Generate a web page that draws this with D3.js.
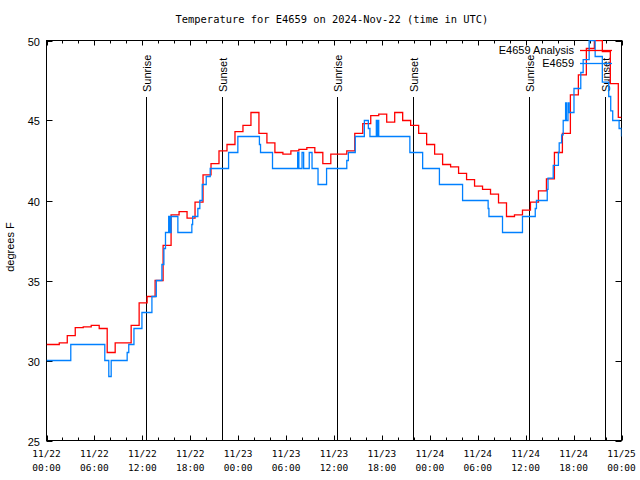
<!DOCTYPE html>
<html><head><meta charset="utf-8">
<script src="https://cdn.jsdelivr.net/npm/d3@7"></script>
<style>
body{margin:0;background:#fff;}
svg{display:block;}
</style></head>
<body>
<svg id="c" width="640" height="480"></svg>
<script>
// ---- data ----
const title = "Temperature for E4659 on 2024-Nov-22 (time in UTC)";
const yLabel = "degrees F";
const yTicks = [25, 30, 35, 40, 45, 50];
const xTickHours = [0, 6, 12, 18, 24, 30, 36, 42, 48, 54, 60, 66, 72];
const xTickDates = ["11/22","11/22","11/22","11/22","11/23","11/23","11/23","11/23","11/24","11/24","11/24","11/24","11/25"];
const xTickTimes = ["00:00","06:00","12:00","18:00","00:00","06:00","12:00","18:00","00:00","06:00","12:00","18:00","00:00"];
const sunEvents = ["Sunrise","Sunset","Sunrise","Sunset","Sunrise","Sunset"];
const sunHours = [12.45, 21.95, 36.4, 45.95, 60.45, 69.95];
const seriesNames = ["E4659 Analysis", "E4659"];

// Analysis: hourly values (hours since 11/22 00:00), step-held
const analysisHours = [0,0.6,1.6,2.6,3.6,4.6,5.6,6.6,7.6,8.6,9.6,10.6,11.6,12.6,13.6,14.6,15.6,16.6,17.6,18.6,19.6,20.6,21.6,22.6,23.6,24.6,25.6,26.6,27.6,28.6,29.6,30.6,31.6,32.6,33.6,34.6,35.6,36.6,37.6,38.6,39.6,40.6,41.6,42.6,43.6,44.6,45.6,46.6,47.6,48.6,49.6,50.6,51.6,52.6,53.6,54.6,55.6,56.6,57.6,58.6,59.6,60.6,61.6,62.6,63.6,64.6,65.6,66.6,67.6,68.6,69.6,70.6,71.6,72];
const analysisTemps = [31.0,31.0,31.1,31.55,32.05,32.1,32.2,32.0,30.5,31.1,31.1,32.2,33.6,34.0,35.0,37.2,39.1,39.3,38.9,39.9,41.6,42.3,43.1,43.5,44.3,44.7,45.5,44.2,43.6,43.0,42.9,43.1,43.2,43.3,43.0,42.3,42.9,42.9,43.1,44.2,44.8,45.3,45.4,44.9,45.5,45.0,44.7,44.2,43.5,42.9,42.25,42.1,41.7,41.3,40.9,40.7,40.4,39.85,39.0,39.1,39.4,39.9,40.6,41.35,43.0,44.2,46.6,47.85,49.5,50.0,49.3,47.3,45.2,45.2];

// Observations: step-held
const obsHours = [0,3.04,7.3,7.8,8.1,10.1,10.3,10.95,11.95,13.2,13.75,14.45,14.7,14.9,15.3,15.45,15.6,16.45,18.2,18.3,18.95,19.2,19.5,20.0,20.5,22.8,23.96,26.66,26.8,28.3,31.45,31.6,32.0,32.2,32.9,33.25,34.0,35.07,37.6,37.8,38.66,39.8,40.3,40.5,41.3,41.4,41.5,41.6,45.5,47.1,49.2,52.1,55.3,55.4,57.1,59.6,61.2,61.35,62.7,62.8,63.45,64.1,64.2,64.5,64.7,65.0,65.1,65.3,65.45,66.05,66.9,67.2,67.95,68.7,69.6,70.4,70.65,70.9,71.7,72];
const obsTemps = [30.0,31.0,30.0,29.0,30.0,30.5,31.0,32.0,33.0,34.0,35.0,36.0,37.0,38.0,39.0,38.0,39.0,38.0,38.5,39.0,39.5,40.0,41.0,41.5,42.0,43.0,44.0,43.5,43.0,42.0,43.0,42.0,43.0,42.0,43.0,42.0,41.0,42.0,42.5,43.0,44.0,45.0,44.5,44.0,45.0,44.0,45.0,44.0,43.0,42.0,41.0,40.0,39.5,39.0,38.0,39.0,39.5,40.0,40.7,41.4,42.2,43.0,43.6,44.1,45.0,46.1,45.0,46.1,45.5,47.0,48.0,48.8,50.0,49.0,47.4,46.5,45.6,45.0,44.5,44.0];

// ---- chart ----
const svg = d3.select("#c");
const L = 46.5, R = 621.5, T = 40.5, B = 440.5;
const x = d3.scaleLinear().domain([0, 72]).range([L, R]);
const y = d3.scaleLinear().domain([25, 50]).range([B, T]);
const monoFont = "'DejaVu Sans Mono', monospace";
const sansFont = "'Liberation Sans', Arial, sans-serif";

svg.append("text").attr("x", 332).attr("y", 23).attr("text-anchor", "middle")
  .attr("font-family", monoFont).attr("font-size", 10.4).text(title);

const clip = svg.append("clipPath").attr("id", "pc").append("rect")
  .attr("x", L).attr("y", T - 0.5).attr("width", R - L).attr("height", B - T + 1);

// sunrise/sunset lines
const sunG = svg.append("g");
sunHours.forEach((h, i) => {
  const xp = Math.round(x(h)) + 0.5;
  sunG.append("line").attr("x1", xp).attr("x2", xp).attr("y1", 97).attr("y2", B)
    .attr("stroke", "#000").attr("stroke-width", 1);
  sunG.append("text").attr("transform", `translate(${xp + 4},92) rotate(-90)`)
    .attr("font-family", sansFont).attr("font-size", 11).text(sunEvents[i]);
});

// axes box
svg.append("rect").attr("x", L).attr("y", T).attr("width", R - L).attr("height", B - T)
  .attr("fill", "none").attr("stroke", "#000").attr("stroke-width", 1);

// y ticks
yTicks.forEach(v => {
  const yp = Math.round(y(v)) + 0.5;
  svg.append("line").attr("x1", L).attr("x2", L + 6).attr("y1", yp).attr("y2", yp).attr("stroke", "#000");
  svg.append("line").attr("x1", R).attr("x2", R - 6).attr("y1", yp).attr("y2", yp).attr("stroke", "#000");
  svg.append("text").attr("x", 40).attr("y", yp + 4).attr("text-anchor", "end")
    .attr("font-family", sansFont).attr("font-size", 11).text(v);
});

// x ticks (every 2 hours, major every 6)
d3.range(0, 73, 2).forEach(h => {
  const xp = Math.round(x(h)) + 0.5;
  const len = h % 6 === 0 ? 5 : 3;
  svg.append("line").attr("x1", xp).attr("x2", xp).attr("y1", B).attr("y2", B - len).attr("stroke", "#000");
  svg.append("line").attr("x1", xp).attr("x2", xp).attr("y1", T).attr("y2", T + len).attr("stroke", "#000");
});
xTickHours.forEach((h, i) => {
  const xp = x(h);
  svg.append("text").attr("x", xp).attr("y", 457).attr("text-anchor", "middle")
    .attr("font-family", monoFont).attr("font-size", 9.5).text(xTickDates[i]);
  svg.append("text").attr("x", xp).attr("y", 471).attr("text-anchor", "middle")
    .attr("font-family", monoFont).attr("font-size", 9.5).text(xTickTimes[i]);
});

// y label
svg.append("text").attr("transform", "translate(14,247) rotate(-90)").attr("text-anchor", "middle")
  .attr("font-family", sansFont).attr("font-size", 11).text(yLabel);

// series
const line = d3.line().x(d => x(d[0])).y(d => y(d[1])).curve(d3.curveStepAfter);
const aData = analysisHours.map((h, i) => [h, analysisTemps[i]]);
const oData = obsHours.map((h, i) => [h, obsTemps[i]]);
const plotG = svg.append("g").attr("clip-path", "url(#pc)");
plotG.append("path").datum(aData).attr("d", line).attr("fill", "none")
  .attr("stroke", "#ff0000").attr("stroke-width", 1.3);
plotG.append("path").datum(oData).attr("d", line).attr("fill", "none")
  .attr("stroke", "#0080ff").attr("stroke-width", 1.3);

// legend
const legColors = ["#ff0000", "#0080ff"];
seriesNames.forEach((n, i) => {
  const ly = 50 + i * 13;
  svg.append("text").attr("x", 574).attr("y", ly + 4).attr("text-anchor", "end")
    .attr("font-family", sansFont).attr("font-size", 11).text(n);
  svg.append("line").attr("x1", 580).attr("x2", 612).attr("y1", ly + 0.5).attr("y2", ly + 0.5)
    .attr("stroke", legColors[i]).attr("stroke-width", 1.3);
});
</script>
</body></html>
